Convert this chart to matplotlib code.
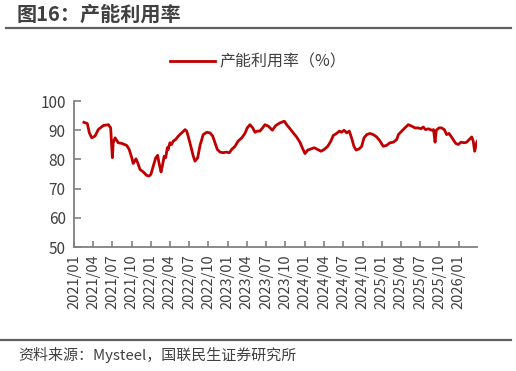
import numpy as np
import pandas as pd
import matplotlib
matplotlib.use("agg")
import matplotlib.pyplot as plt

plt.rcParams['font.family'] = ['Noto Sans CJK SC', 'DejaVu Sans']

# ---------------- data ----------------
dates = [
    "2021-02-17", "2021-03-05", "2021-03-15", "2021-03-26", "2021-04-11", "2021-04-26",
    "2021-05-20", "2021-06-13", "2021-06-24", "2021-07-02", "2021-07-06", "2021-07-15",
    "2021-07-30", "2021-08-15", "2021-09-08", "2021-09-20", "2021-10-02", "2021-10-09",
    "2021-10-22", "2021-10-30", "2021-11-10", "2021-11-26", "2021-12-12", "2021-12-23",
    "2022-01-01", "2022-01-12", "2022-01-24", "2022-02-02", "2022-02-08", "2022-02-18",
    "2022-02-24", "2022-03-05", "2022-03-12", "2022-03-20", "2022-03-24", "2022-04-01",
    "2022-04-09", "2022-04-17", "2022-04-28", "2022-05-11", "2022-05-27", "2022-06-12",
    "2022-06-20", "2022-07-05", "2022-07-21", "2022-07-29", "2022-08-11", "2022-08-22",
    "2022-09-06", "2022-09-23", "2022-10-08", "2022-10-21", "2022-11-01", "2022-11-12",
    "2022-11-25", "2022-12-10", "2022-12-23", "2023-01-08", "2023-01-19", "2023-02-04",
    "2023-02-19", "2023-03-08", "2023-03-23", "2023-04-03", "2023-04-16", "2023-04-29",
    "2023-05-10", "2023-05-21", "2023-06-02", "2023-06-15", "2023-06-26", "2023-07-12",
    "2023-07-31", "2023-08-16", "2023-09-05", "2023-09-26", "2023-10-07", "2023-10-23",
    "2023-11-07", "2023-11-23", "2023-12-09", "2023-12-20", "2024-01-02", "2024-01-15",
    "2024-01-30", "2024-02-15", "2024-03-02", "2024-03-18", "2024-04-02", "2024-04-19",
    "2024-05-04", "2024-05-15", "2024-05-31", "2024-06-13", "2024-06-24", "2024-07-05",
    "2024-07-18", "2024-07-30", "2024-08-10", "2024-08-21", "2024-08-31", "2024-09-15",
    "2024-09-27", "2024-10-08", "2024-10-21", "2024-11-05", "2024-11-21", "2024-12-07",
    "2024-12-23", "2025-01-07", "2025-01-23", "2025-02-08", "2025-02-24", "2025-03-12",
    "2025-03-20", "2025-04-05", "2025-04-20", "2025-05-06", "2025-05-22", "2025-06-07",
    "2025-06-22", "2025-07-05", "2025-07-16", "2025-07-27", "2025-08-09", "2025-08-25",
    "2025-09-03", "2025-09-10", "2025-09-16", "2025-09-29", "2025-10-11", "2025-10-24",
    "2025-11-04", "2025-11-15", "2025-11-24", "2025-12-05", "2025-12-17", "2025-12-29",
    "2026-01-11", "2026-01-27", "2026-02-07", "2026-02-19", "2026-03-03", "2026-03-10",
    "2026-03-17", "2026-03-26", "2026-04-03",
]
utilization = [
    92.7, 92.3, 89.1, 87.4, 88.0, 90.2,
    91.6, 91.9, 90.8, 80.6, 85.7, 87.4,
    85.7, 85.5, 84.8, 83.4, 80.6, 78.6,
    80.2, 78.9, 76.6, 75.7, 74.5, 74.3,
    74.9, 77.7, 80.6, 81.4, 78.9, 75.7,
    77.7, 81.1, 80.6, 84.0, 83.4, 85.7,
    85.1, 86.3, 86.8, 88.0, 89.1, 90.2,
    89.7, 85.7, 81.1, 79.4, 80.6, 84.8,
    88.5, 89.3, 89.1, 88.0, 85.7, 83.4,
    82.5, 82.3, 82.5, 82.3, 83.4, 84.5,
    86.3, 87.4, 88.9, 90.8, 91.9, 90.8,
    89.3, 89.7, 89.7, 90.8, 91.9, 91.4,
    90.0, 91.6, 92.5, 93.1, 91.9, 90.5,
    89.1, 87.7, 85.9, 84.0, 82.0, 83.2,
    83.6, 84.0, 83.4, 82.8, 83.4, 84.5,
    86.3, 88.2, 88.9, 89.7, 89.3, 90.0,
    89.1, 89.7, 87.4, 84.5, 83.2, 83.6,
    84.5, 87.4, 88.5, 88.9, 88.5, 87.7,
    86.3, 84.5, 84.8, 85.7, 85.9, 86.8,
    88.5, 89.7, 90.8, 91.9, 91.4, 90.8,
    90.8, 90.5, 91.1, 90.2, 90.5, 90.0,
    90.2, 85.9, 90.0, 90.8, 90.8, 90.2,
    88.5, 88.9, 88.0, 86.8, 85.5, 85.1,
    85.9, 85.7, 85.9, 86.8, 87.7, 86.3,
    82.8, 85.7, 86.8,
]
tick_dates = pd.date_range("2021-01-01", "2026-01-01", freq="QS")
tick_labels = [d.strftime("%Y/%m") for d in tick_dates]

x = pd.to_datetime(dates)

# ---------------- figure ----------------
fig = plt.figure(figsize=(5.16, 3.71), dpi=100)
ax = fig.add_axes([0.1434, 0.3342, 0.781, 0.3935])

ax.plot(x, utilization, color="#C00000", lw=2.0, label="产能利用率（%）")

ax.set_ylim(50, 100)
ax.set_yticks(np.arange(50, 101, 10))
ax.set_xlim(pd.Timestamp("2021-01-01"), pd.Timestamp("2026-03-28"))
ax.set_xticks(tick_dates)
ax.set_xticklabels(tick_labels, rotation=90)

for s in ["top", "right"]:
    ax.spines[s].set_visible(False)
for s in ["left", "bottom"]:
    ax.spines[s].set_color("#808080")
    ax.spines[s].set_linewidth(1.3)
ax.tick_params(axis="y", direction="in", length=5, width=1.2, color="#808080",
               labelsize=11, labelcolor="#404040", pad=6)
ax.tick_params(axis="x", direction="in", length=4, width=1.2, color="#808080",
               labelsize=10.5, labelcolor="#404040", pad=5)

ax.legend(loc="center", bbox_to_anchor=(0.5, 0.833), bbox_transform=fig.transFigure,
          frameon=False, fontsize=11.5, handlelength=2.8, handletextpad=0.3,
          labelcolor="#404040")

# title and rules
fig.text(0.033, 0.962, "图16：产能利用率", fontsize=14.5, fontweight="bold",
         color="#404040", va="center", ha="left")
fig.add_artist(plt.Line2D([0.012, 0.99], [0.925, 0.925], color="#606060", lw=1.6))
fig.add_artist(plt.Line2D([0.0, 0.99], [0.083, 0.083], color="#606060", lw=1.6))
fig.text(0.035, 0.043, "资料来源：Mysteel，国联民生证券研究所", fontsize=10.8,
         color="#404040", va="center", ha="left")

plt.savefig("out.png", dpi=100)
